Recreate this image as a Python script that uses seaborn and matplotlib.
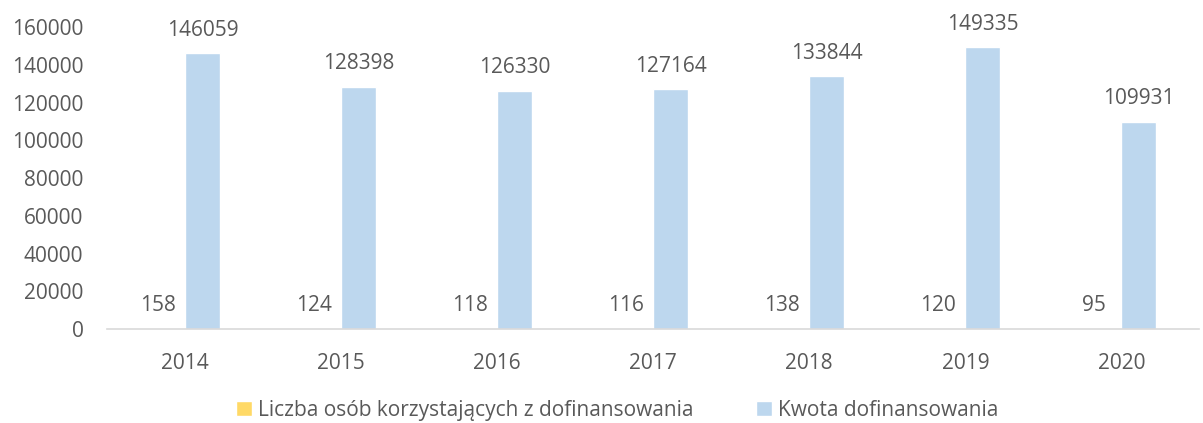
import pandas as pd
import matplotlib
matplotlib.use("Agg")
import matplotlib.pyplot as plt
import seaborn as sns

# Data
years = ["2014", "2015", "2016", "2017", "2018", "2019", "2020"]
liczba_osob = [158, 124, 118, 116, 138, 120, 95]
kwota = [146059, 128398, 126330, 127164, 133844, 149335, 109931]
series_names = ["Liczba osób korzystających z dofinansowania", "Kwota dofinansowania"]
y_ticks = [0, 20000, 40000, 60000, 80000, 100000, 120000, 140000, 160000]

sns.set_theme(style="white")
plt.rcParams["font.family"] = ["Open Sans", "DejaVu Sans"]

text_color = "#595959"
palette = {series_names[0]: "#FFD966", series_names[1]: "#BDD7EE"}

df = pd.DataFrame({
    "rok": years * 2,
    "wartosc": liczba_osob + kwota,
    "seria": [series_names[0]] * len(years) + [series_names[1]] * len(years),
})

fig = plt.figure(figsize=(12.03, 4.23), dpi=100)
ax = fig.add_axes([0.089, 0.222, 0.908, 0.714])

sns.barplot(data=df, x="rok", y="wartosc", hue="seria", palette=palette,
            width=0.45, gap=0, saturation=1, ax=ax, legend=True)

# labels of the small series sit a bit left, like in the original
for i, container in enumerate(ax.containers):
    labels = ax.bar_label(container, fmt="%d", padding=9, fontsize=15, color=text_color)
    if i == 0:
        for t in labels:
            t.xyann = (-7, 9)

ax.set_ylim(0, 160000)
ax.set_yticks(y_ticks)
ax.set_yticklabels([str(t) for t in y_ticks])
ax.set_xlabel("")
ax.set_ylabel("")
ax.tick_params(axis="both", labelsize=15, colors=text_color, length=0)
ax.tick_params(axis="x", pad=17.5)
ax.tick_params(axis="y", pad=17)

for side in ["top", "right", "left"]:
    ax.spines[side].set_visible(False)
ax.spines["bottom"].set_color("#D9D9D9")
ax.spines["bottom"].set_linewidth(1.2)

handles, labels = ax.get_legend_handles_labels()
ax.legend(handles, labels, loc="center", bbox_to_anchor=(0.467, -0.268),
          ncol=2, frameon=False, fontsize=15, labelcolor=text_color,
          handlelength=0.75, handleheight=0.75, handletextpad=0.3, columnspacing=3.0)

fig.savefig("out.png", dpi=100)
